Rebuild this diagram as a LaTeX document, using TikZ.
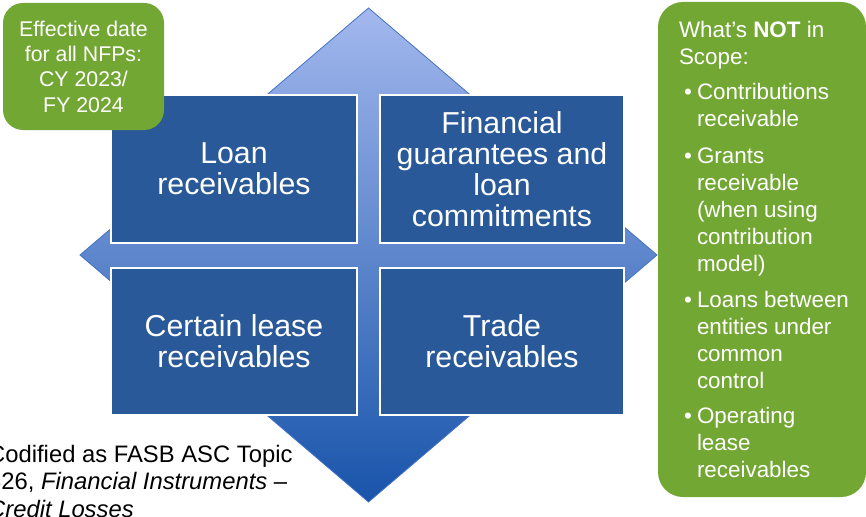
\documentclass[tikz,border=0pt]{standalone}
\usepackage{fontspec}
\setmainfont{Liberation Sans}
\usepackage{tikz}

\definecolor{boxblue}{RGB}{41,89,152}
\definecolor{notegreen}{RGB}{115,167,52}
\definecolor{arrowtop}{RGB}{163,184,238}
\definecolor{arrowmid}{RGB}{120,144,211}
\definecolor{arrowbot}{RGB}{24,84,170}
\definecolor{arrowline}{RGB}{68,114,196}

\newcommand{\itm}{\makebox[18pt][l]{\hspace*{5pt}\textbullet}}
\newcommand{\ind}{\hspace*{18pt}}

\begin{document}
\begin{tikzpicture}[x=1pt, y=-1pt,
  every node/.style={font=\fontsize{30.3}{31}\selectfont, text=white},
  area/.style={fill=boxblue, draw=white, line width=2.5pt, minimum width=246pt, minimum height=148pt, align=center},
  note/.style={fill=notegreen, rounded corners=20pt, inner sep=0pt},
  quad/.style={draw=arrowline, line width=0.8pt, top color=arrowtop, middle color=arrowmid, bottom color=arrowbot}]

  \useasboundingbox (0,0) rectangle (866,516);

  % four-way arrow
  \draw[quad] (368.5,8) -- (498.5,119) -- (433.5,119) -- (433.5,199.4) -- (527,199.4) -- (527,144)
    -- (657,255) -- (527,366) -- (527,310.6) -- (433.5,310.6) -- (433.5,391) -- (498.5,391)
    -- (368.5,502) -- (238.5,391) -- (303.5,391) -- (303.5,310.6) -- (210,310.6) -- (210,366)
    -- (80,255) -- (210,144) -- (210,199.4) -- (303.5,199.4) -- (303.5,119) -- (238.5,119) -- cycle;

  % positions
  \node[area] (loan) at (234,169) {Loan\\receivables};
  \node[area, minimum width=244pt] (guar) at (502,169) {Financial\\guarantees and\\loan\\commitments};
  \node[area, minimum height=147pt] (lease) at (234,341.5) {Certain lease\\receivables};
  \node[area, minimum width=244pt, minimum height=147pt] (trade) at (502,341.5) {Trade\\receivables};

  % green notes
  \node[note, minimum width=161pt, minimum height=127pt, align=center,
    font=\fontsize{21.3}{25.3}\selectfont] (date) at (83.5,66.5) {Effective date\\for all NFPs:\\CY 2023/\\FY 2024};
  \node[note, rounded corners=25pt, minimum width=208pt, minimum height=495pt] (scopebox) at (762,249.5) {};
  \node[anchor=west, align=left, inner sep=0pt, font=\fontsize{22.4}{27}\selectfont]
    (scope) at ([xshift=21pt]scopebox.west) {What’s \textbf{NOT} in\\Scope:\\[8pt]
    \itm Contributions\\\ind receivable\\[10pt]
    \itm Grants\\\ind receivable\\\ind (when using\\\ind contribution\\\ind model)\\[9pt]
    \itm Loans between\\\ind entities under\\\ind common\\\ind control\\[8pt]
    \itm Operating\\\ind lease\\\ind receivables};

  % source
  \node[anchor=north west, align=left, inner sep=0pt, text=black,
    font=\fontsize{23.8}{27.5}\selectfont] (codif) at (-12,445)
    {Codified as FASB ASC Topic\\326, \textit{Financial Instruments} –\\\textit{Credit Losses}};

\end{tikzpicture}
\end{document}
